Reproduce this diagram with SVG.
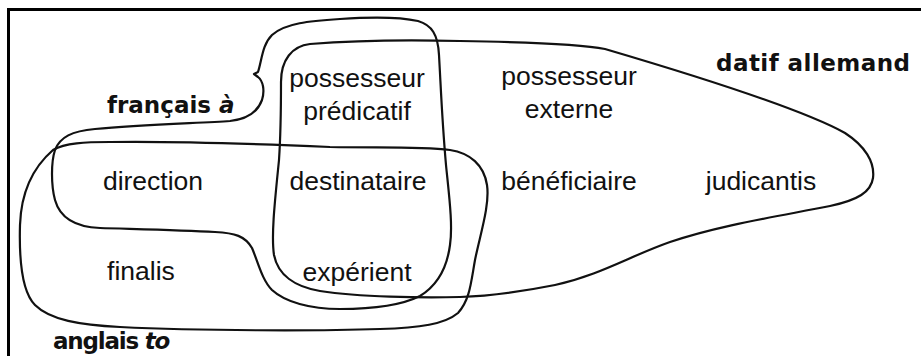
<svg xmlns="http://www.w3.org/2000/svg" width="921" height="356" viewBox="0 0 921 356">
  <style>
    .frame { fill: none; stroke: #000; stroke-width: 3; }
    .region { fill: none; stroke: #111; stroke-width: 2.2; stroke-linejoin: round; stroke-linecap: round; }
    .term { font-family: "Liberation Sans", Arial, sans-serif; font-size: 26.5px; fill: #111; text-anchor: middle; }
    .lang { font-family: "DejaVu Sans", "Liberation Sans", sans-serif; font-weight: bold; font-size: 23px; fill: #111; }
    .form { font-style: italic; }
  </style>
  <rect width="921" height="356" fill="#fff"/>

  <!-- frame: only the top and left edges fall inside the canvas -->
  <rect class="frame" x="8.5" y="9.5" width="930" height="360"/>

  <g id="regions">
    <!-- datif allemand -->
    <path id="datif-allemand" class="region" d="M 281,82
      C 281,60 292,46 310,44
      C 360,40 420,40 460,41
      C 520,42 580,44 605,49
      C 690,74 800,108 845,133
      C 865,146 875,162 873,178
      C 871,192 858,200 830,206
      C 780,216 720,225 670,242
      C 630,256 600,275 555,285
      C 520,292 490,296 460,297
      C 420,298 360,297 320,291
      C 295,287 278,275 274,255
      C 271,235 275,200 279,160
      C 281,130 281,100 281,82 Z"/>
    <!-- français à -->
    <path id="francais-a" class="region" d="M 258,72
      C 262,60 262,45 272,35
      C 285,23 310,21 340,19
      C 370,17 400,17 418,21
      C 432,25 438,35 439,55
      C 441,90 442,120 446,165
      C 449,195 453,225 450,245
      C 447,268 438,285 420,296
      C 400,306 370,309 340,309
      C 310,309 285,302 272,290
      C 262,280 258,262 252,248
      C 245,236 235,233 215,232
      C 180,230 130,229 100,228
      C 75,227 60,218 55,200
      C 51,185 51,162 55,150
      C 60,137 72,131 95,129
      C 140,125 200,123 230,121
      C 248,119 258,111 262,100
      C 265,90 263,81 258,77
      L 254,74 Z"/>
    <!-- anglais to -->
    <path id="anglais-to" class="region" d="M 53,150
      C 65,143 85,142 110,142
      C 180,141 260,144 330,147
      C 380,148 420,146 450,150
      C 470,153 484,165 487,185
      C 490,205 480,235 475,260
      C 471,282 470,300 458,313
      C 445,324 420,328 380,329
      C 320,331 200,331 120,327
      C 80,325 50,320 35,305
      C 22,292 19,260 20,225
      C 21,195 30,170 53,150 Z"/>
  </g>

  <g id="labels">
    <text class="lang" x="107" y="113">français <tspan class="form">à</tspan></text>
    <text class="lang" x="716" y="71" letter-spacing="0.45">datif allemand</text>
    <text class="lang" x="53" y="349" letter-spacing="-1.2">anglais <tspan class="form">to</tspan></text>
  </g>

  <g id="possesseur-predicatif"><text class="term" x="357" y="87">possesseur</text><text class="term" x="357" y="120">prédicatif</text></g>
  <g id="possesseur-externe"><text class="term" x="569" y="85">possesseur</text><text class="term" x="569" y="118">externe</text></g>
  <g id="direction"><text class="term" x="153" y="190">direction</text></g>
  <g id="destinataire"><text class="term" x="358" y="190">destinataire</text></g>
  <g id="beneficiaire"><text class="term" x="569" y="190">bénéficiaire</text></g>
  <g id="judicantis"><text class="term" x="761" y="190">judicantis</text></g>
  <g id="finalis"><text class="term" x="141" y="280">finalis</text></g>
  <g id="experient"><text class="term" x="357" y="281">expérient</text></g>
</svg>
